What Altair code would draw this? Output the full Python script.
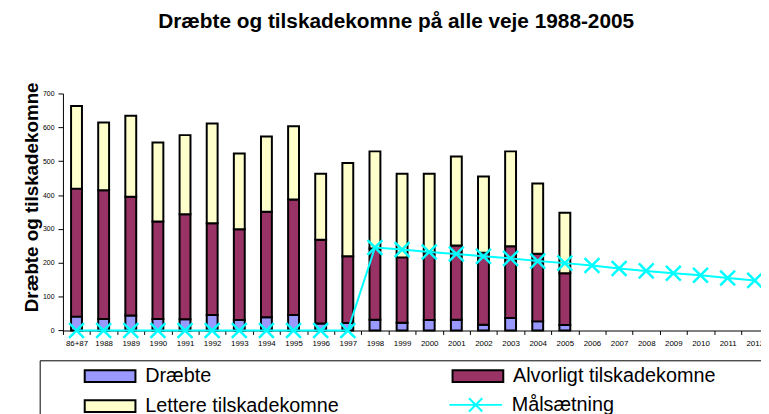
import altair as alt
import pandas as pd

FONT = "Liberation Sans"

categories = ["86+87", "1988", "1989", "1990", "1991", "1992", "1993", "1994", "1995",
              "1996", "1997", "1998", "1999", "2000", "2001", "2002", "2003", "2004",
              "2005", "2006", "2007", "2008", "2009", "2010", "2011", "2012"]

bar_categories = categories[:19]

draebte = [41, 34, 44, 34, 33, 46, 31, 39, 46, 21, 22, 32, 23, 31, 32, 17, 37, 27, 16]
alvorligt = [378, 380, 351, 288, 310, 271, 268, 312, 341, 247, 197, 210, 193, 200, 219, 213, 212, 200, 153]
lettere = [244, 200, 239, 233, 234, 294, 224, 222, 216, 195, 276, 287, 247, 232, 263, 225, 280, 207, 179]

maalsaetning = [0, 0, 0, 0, 0, 0, 0, 0, 0, 0, 0,
                245, 239, 232, 226, 219, 213, 205, 199, 192, 183, 176, 169, 163, 155, 148]

y_ticks = [0, 100, 200, 300, 400, 500, 600, 700]

series_names = ["Dræbte", "Alvorligt tilskadekomne", "Lettere tilskadekomne"]
series_colors = ["#9999FF", "#993366", "#FFFFCC"]
line_name = "Målsætning"
line_color = "#00FFFF"

rows = []
for k, (name, vals) in enumerate(zip(series_names, [draebte, alvorligt, lettere])):
    for c, v in zip(bar_categories, vals):
        rows.append({"cat": c, "series": name, "value": v, "k": k})
bar_df = pd.DataFrame(rows)

line_df = pd.DataFrame({"cat": categories, "value": maalsaetning, "series": line_name})

x_enc = alt.X(
    "cat:N",
    sort=categories,
    scale=alt.Scale(domain=categories, range=[0, 712.4], paddingInner=0, paddingOuter=0),
    axis=alt.Axis(title=None, labelAngle=0, labelFontSize=8, labelFont=FONT,
                  labelColor="black", tickBand="extent", tickSize=4, tickColor="black",
                  domainColor="black", labelPadding=5, labelOverlap=False, grid=False),
)

y_scale = alt.Scale(domain=[0, 700])
y_axis = alt.Axis(values=y_ticks,
                  labelFontSize=7, labelFont=FONT, labelColor="black",
                  labelOverlap=False,
                  tickSize=5, tickColor="black", domainColor="black",
                  labelPadding=4, grid=False,
                  title="Dræbte og tilskadekomne", titleFont=FONT,
                  titleFontSize=19, titleFontWeight="bold", titleColor="black",
                  titleX=-26.2, titleY=104.4, titleAlign="center",
                  titleBaseline="alphabetic", titleAngle=270)

RECT_PATH = "M-3.66,-0.857H3.66V0.857H-3.66Z"
LINE_X_PATH = "M-3.8,0H3.8M-0.95,-0.95L0.95,0.95M-0.95,0.95L0.95,-0.95"

bars = alt.Chart(bar_df).mark_bar(size=11, stroke="black", strokeWidth=2).encode(
    x=x_enc,
    y=alt.Y("value:Q", stack="zero", scale=y_scale, axis=y_axis),
    fill=alt.Fill("series:N", scale=alt.Scale(domain=series_names, range=series_colors),
                  legend=alt.Legend(
                      title=" ", titleOrient="left", titleFontSize=1, titlePadding=36.5,
                      orient="none", legendX=-23.5, legendY=269.5,
                      direction="horizontal",
                      columns=2, columnPadding=109.5, rowPadding=10.3,
                      symbolType=RECT_PATH, symbolSize=196, symbolOffset=18.6,
                      symbolStrokeColor="black", symbolStrokeWidth=2,
                      labelOffset=25.4, labelFontSize=20, labelFont=FONT,
                      labelColor="black", labelLimit=800,
                      labelExpr="datum.label == 'Alvorligt tilskadekomne' ? datum.label + '                  \u200b' : datum.label",
                      strokeColor="black", fillColor="white", padding=6)),
    order=alt.Order("k:Q", sort="ascending"),
)

line = alt.Chart(line_df).mark_line(strokeWidth=2).encode(
    x=x_enc,
    y=alt.Y("value:Q", scale=y_scale, axis=y_axis),
    stroke=alt.Stroke("series:N", scale=alt.Scale(domain=[line_name], range=[line_color]),
                      legend=alt.Legend(
                          title=None, orient="none", legendX=387.2, legendY=304.5,
                          symbolType=LINE_X_PATH, symbolSize=196, symbolOffset=19.6,
                          symbolStrokeWidth=2, labelOffset=26.4, labelFontSize=20,
                          labelFont=FONT, labelColor="black", labelLimit=400, padding=0)),
)

points = alt.Chart(line_df).mark_point(
    shape="M-1,-1L1,1M-1,1L1,-1", size=225, filled=False,
    stroke=line_color, strokeWidth=2.5, opacity=1,
).encode(
    x=x_enc,
    y=alt.Y("value:Q", scale=y_scale, axis=y_axis),
)

chart = alt.layer(bars, line, points).properties(
    width=705,
    height=239.4,
    autosize=alt.AutoSizeParams(type="none"),
    padding={"left": 55.5, "top": 84.3, "right": 0, "bottom": 82.3},
    title=alt.TitleParams("Dræbte og tilskadekomne på alle veje 1988-2005",
                          font=FONT, fontSize=21, fontWeight="bold", color="black",
                          anchor="middle", frame="group", dx=-16, dy=-46),
    background="white",
).configure_view(stroke="transparent")

chart.save("out.html", embed_options={"renderer": "svg", "actions": False})
